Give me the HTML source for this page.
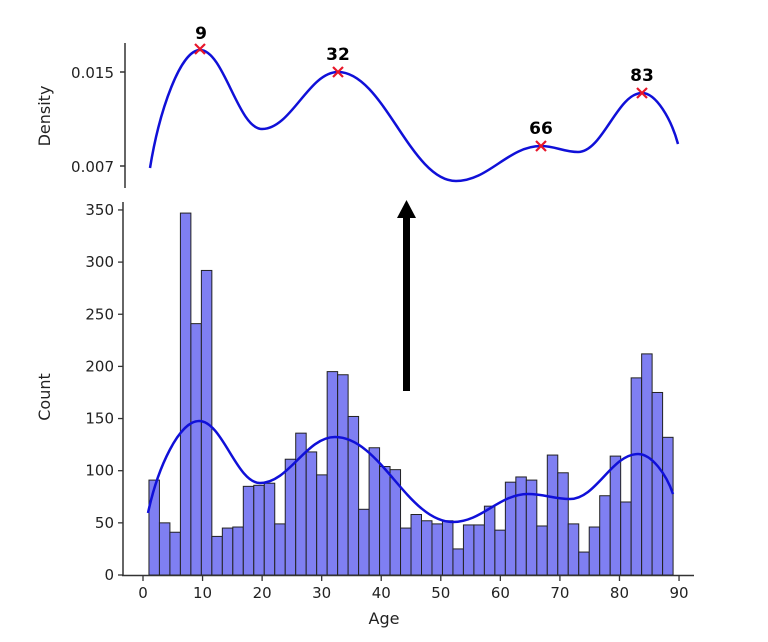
<!DOCTYPE html>
<html><head><meta charset="utf-8"><style>
body{margin:0;background:#fff}
svg text{font-family:"DejaVu Sans","Liberation Sans",sans-serif;fill:#222}
</style></head><body>
<svg id="s" width="768" height="637" viewBox="0 0 768 637" xmlns="http://www.w3.org/2000/svg">
<rect width="768" height="637" fill="#fff"/>
<g id="bars"></g>
<line x1="125" y1="43" x2="125" y2="188" stroke="#333" stroke-width="1.5"/>
<line x1="120" y1="72" x2="125" y2="72" stroke="#333" stroke-width="1.5"/>
<line x1="120" y1="166" x2="125" y2="166" stroke="#333" stroke-width="1.5"/>
<text x="114" y="78" font-size="15" text-anchor="end">0.015</text>
<text x="114" y="172" font-size="15" text-anchor="end">0.007</text>
<text transform="translate(50,116) rotate(-90)" font-size="16" text-anchor="middle">Density</text>
<path id="topc" fill="none" stroke="#1010d8" stroke-width="2.5"/>
<g stroke="#e8162a" stroke-width="2.2">
<path d="M195 44l10 10M205 44l-10 10"/>
<path d="M333 67l10 10M343 67l-10 10"/>
<path d="M536 141l10 10M546 141l-10 10"/>
<path d="M637 88l10 10M647 88l-10 10"/>
</g>
<g font-size="17" font-weight="bold" text-anchor="middle" style="font-family:'Liberation Sans',sans-serif">
<text x="201" y="39" style="fill:#000">9</text>
<text x="338" y="60" style="fill:#000">32</text>
<text x="541" y="134" style="fill:#000">66</text>
<text x="642" y="81" style="fill:#000">83</text>
</g>
<rect x="403" y="215" width="7" height="176" fill="#000"/>
<path d="M397 218 L406.5 200 L416 218 Z" fill="#000"/>
<line x1="123" y1="202" x2="123" y2="576" stroke="#333" stroke-width="1.5"/>
<line x1="122" y1="575.5" x2="694" y2="575.5" stroke="#333" stroke-width="1.5"/>
<g id="ticks"></g>
<text transform="translate(50,397) rotate(-90)" font-size="16" text-anchor="middle">Count</text>
<text x="384" y="624" font-size="16" text-anchor="middle">Age</text>
<path id="botc" fill="none" stroke="#1010d8" stroke-width="2.5"/>
</svg>
<script>
var c=[91,50,41,347,241,292,37,45,46,85,86,88,49,111,136,118,96,195,192,152,63,122,104,101,45,58,52,49,52,25,48,48,66,43,89,94,91,47,115,98,49,22,46,76,114,70,189,212,175,132];
function X(v){return 143+v*5.956;}function Y(v){return 575-v*1.043;}
var h="";
for(var i=0;i<50;i++){var x0=X(1+i*1.76),x1=X(1+(i+1)*1.76);
h+='<rect x="'+x0+'" y="'+Y(c[i])+'" width="'+(x1-x0)+'" height="'+(c[i]*1.043)+'" fill="#7f7ff2" stroke="#222" stroke-width="1"/>';}
document.getElementById("bars").innerHTML=h;
var t="";
for(var v=0;v<=90;v+=10){t+='<line x1="'+X(v)+'" y1="576" x2="'+X(v)+'" y2="581" stroke="#333" stroke-width="1.3"/><text x="'+X(v)+'" y="598" font-size="15" text-anchor="middle">'+v+'</text>';}
for(var v=0;v<=350;v+=50){t+='<line x1="118" y1="'+Y(v)+'" x2="123" y2="'+Y(v)+'" stroke="#333" stroke-width="1.3"/><text x="114" y="'+(Y(v)+5)+'" font-size="15" text-anchor="end">'+v+'</text>';}
document.getElementById("ticks").innerHTML=t;
function hz(p){var n=p.length,d="M"+p[0][0]+" "+p[0][1];
for(var i=0;i<n-1;i++){var a=p[i],b=p[i+1],dx=(b[0]-a[0])/2.6;
var c1=(i==0)?[a[0]+dx*0.5,a[1]+(b[1]-a[1])*0.5]:[a[0]+dx,a[1]];
var c2=(i==n-2)?[b[0]-dx*0.5,b[1]-(b[1]-a[1])*0.5]:[b[0]-dx,b[1]];
d+=" C"+c1[0]+" "+c1[1]+" "+c2[0]+" "+c2[1]+" "+b[0]+" "+b[1];}return d;}
document.getElementById("topc").setAttribute("d",hz([[150,168],[200,50],[262,129],[338,72],[456,181],[541,146],[578,152],[642,93],[678,144]]));
document.getElementById("botc").setAttribute("d",hz([[148,513],[199,421],[260,483],[335,437],[453,522],[528,494],[570,499],[638,454],[673,494]]));
</script>
</body></html>
